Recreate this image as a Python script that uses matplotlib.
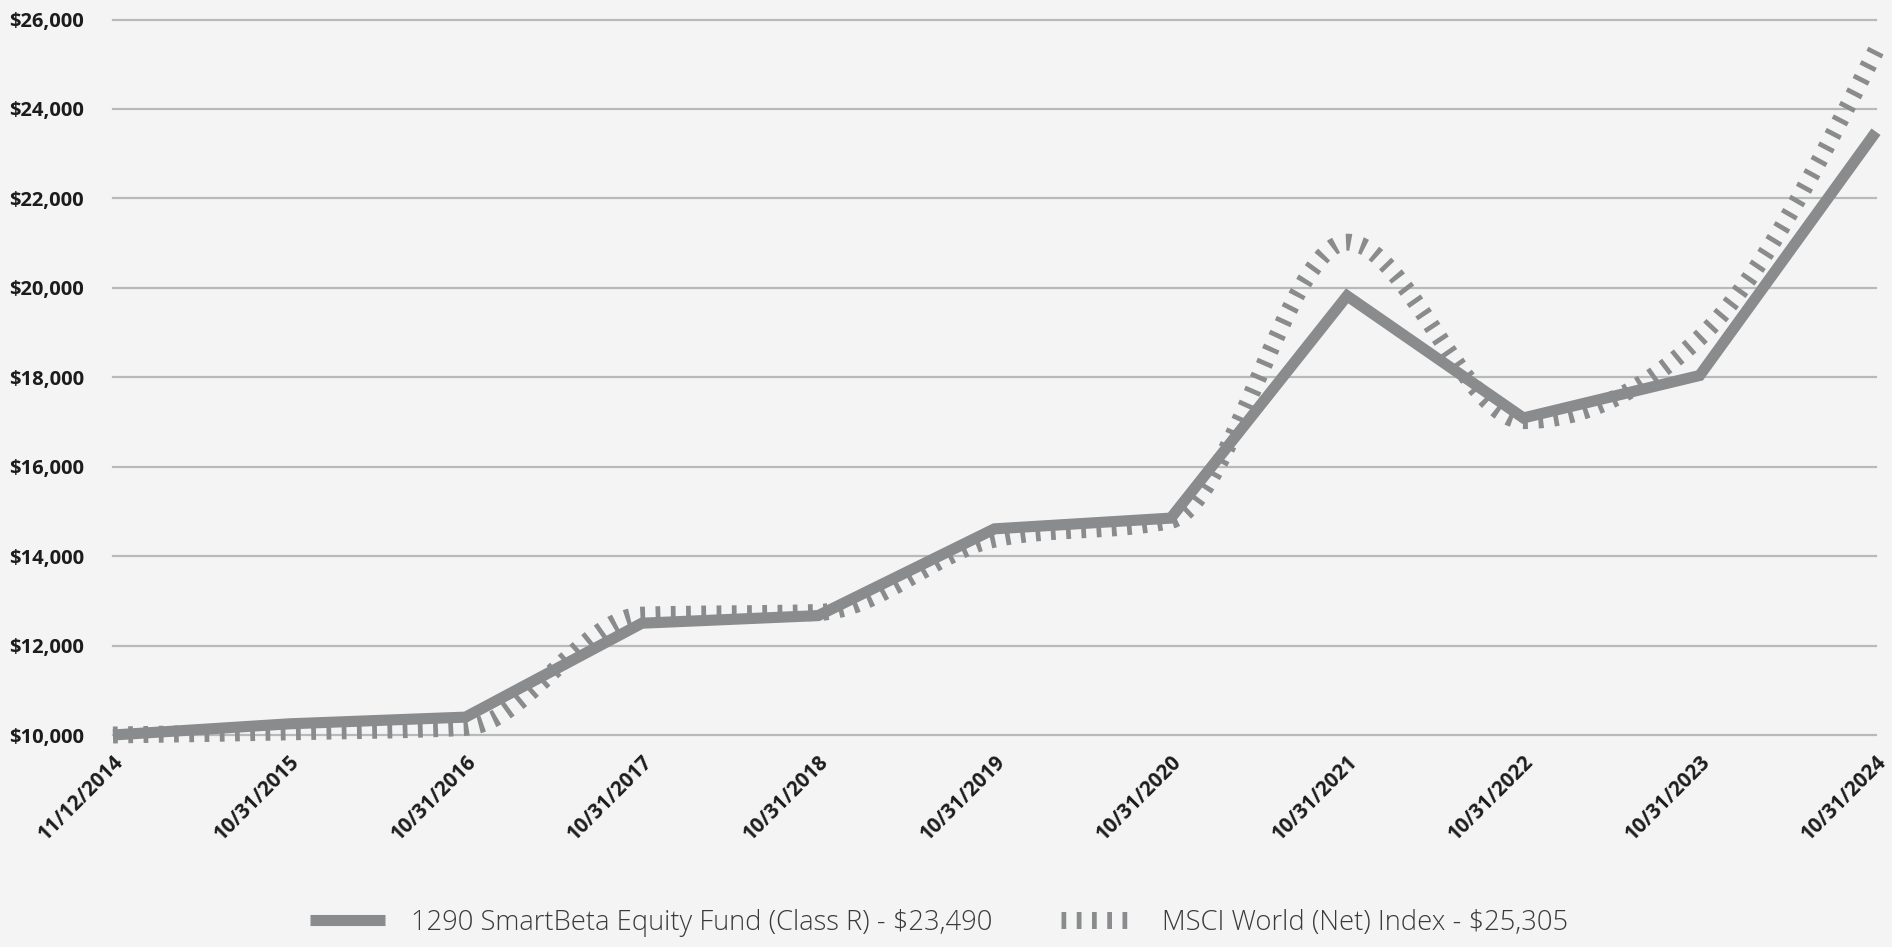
import numpy as np
import matplotlib
matplotlib.use("Agg")
from matplotlib import pyplot as plt
from matplotlib.path import Path
from matplotlib.patches import PathPatch
from matplotlib.lines import Line2D

dates = ["11/12/2014", "10/31/2015", "10/31/2016", "10/31/2017", "10/31/2018",
         "10/31/2019", "10/31/2020", "10/31/2021", "10/31/2022", "10/31/2023",
         "10/31/2024"]
fund = [10000, 10250, 10400, 12500, 12670, 14610, 14850, 19820, 17090, 18040, 23490]
index = [10000, 10070, 10170, 12680, 12740, 14380, 14800, 21020, 17030, 18880, 25305]
fund_label = "1290 SmartBeta Equity Fund (Class R) - $23,490"
index_label = "MSCI World (Net) Index - $25,305"
yticks = [10000, 12000, 14000, 16000, 18000, 20000, 22000, 24000, 26000]

bg = "#f3f4f3"
line_col = "#8a8b8d"
grid_col = "#b8b9b9"
plt.rcParams["font.family"] = ["Open Sans", "DejaVu Sans"]


def monotone_path(xs, ys):
    # monotone cubic (like d3 curveMonotoneX) drawn as bezier segments
    xs = np.asarray(xs, float)
    ys = np.asarray(ys, float)
    n = len(xs)
    h = np.diff(xs)
    s = np.diff(ys) / h
    t = np.zeros(n)
    for i in range(1, n - 1):
        s0, s1 = s[i - 1], s[i]
        p = (s0 * h[i] + s1 * h[i - 1]) / (h[i - 1] + h[i])
        t[i] = (np.sign(s0) + np.sign(s1)) * min(abs(s0), abs(s1), 0.5 * abs(p))
    t[0] = (3 * s[0] - t[1]) / 2
    t[-1] = (3 * s[-1] - t[-2]) / 2
    verts = [(xs[0], ys[0])]
    codes = [Path.MOVETO]
    for i in range(n - 1):
        d = h[i] / 3
        verts += [(xs[i] + d, ys[i] + t[i] * d),
                  (xs[i + 1] - d, ys[i + 1] - t[i + 1] * d),
                  (xs[i + 1], ys[i + 1])]
        codes += [Path.CURVE4] * 3
    return Path(verts, codes)


fig = plt.figure(figsize=(18.92, 9.47), dpi=100, facecolor=bg)
ax = fig.add_axes([113 / 1892, 1 - 735 / 947, (1876 - 113) / 1892, (735 - 19.5) / 947])
ax.set_facecolor(bg)

x = np.arange(len(dates))
ax.set_xlim(0, len(dates) - 1)
ax.set_ylim(yticks[0], yticks[-1])

for yv in yticks:
    ax.axhline(yv, color=grid_col, lw=1.6, zorder=1, clip_on=False)

dash_style = (0, (0.28, 0.62))
idx_patch = PathPatch(monotone_path(x, index), fill=False, edgecolor=line_col,
                      lw=12.2, linestyle=dash_style, capstyle="butt",
                      zorder=2, clip_on=False)
ax.add_patch(idx_patch)

ax.plot(x, fund, color=line_col, lw=8, solid_joinstyle="miter",
        solid_capstyle="butt", zorder=3, clip_on=False)

for sp in ax.spines.values():
    sp.set_visible(False)
ax.set_yticks(yticks)
ax.set_yticklabels(["${:,.0f}".format(v) for v in yticks])
ax.set_xticks(x)
ax.set_xticklabels(dates, rotation=45, ha="right", va="top", rotation_mode="anchor")
ax.tick_params(axis="y", length=0, pad=21, labelsize=14.5, labelcolor="#1c1c1c")
ax.tick_params(axis="x", length=0, pad=12, labelsize=14.8, labelcolor="#1c1c1c")
for lab in ax.get_xticklabels() + ax.get_yticklabels():
    lab.set_fontweight("bold")

handles = [Line2D([], [], color=line_col, lw=8, solid_capstyle="butt"),
           Line2D([], [], color=line_col, lw=12.2, linestyle=dash_style,
                  dash_capstyle="butt")]
leg = fig.legend(handles, [fund_label, index_label], loc="center",
                 bbox_to_anchor=(0.4963, 0.0255), ncol=2, frameon=False,
                 prop={"size": 19.7, "weight": "light"}, handlelength=2.76,
                 handletextpad=0.95, columnspacing=2.5, labelcolor="#3a3a3a")

fig.savefig("out.png", dpi=100, facecolor=bg)
